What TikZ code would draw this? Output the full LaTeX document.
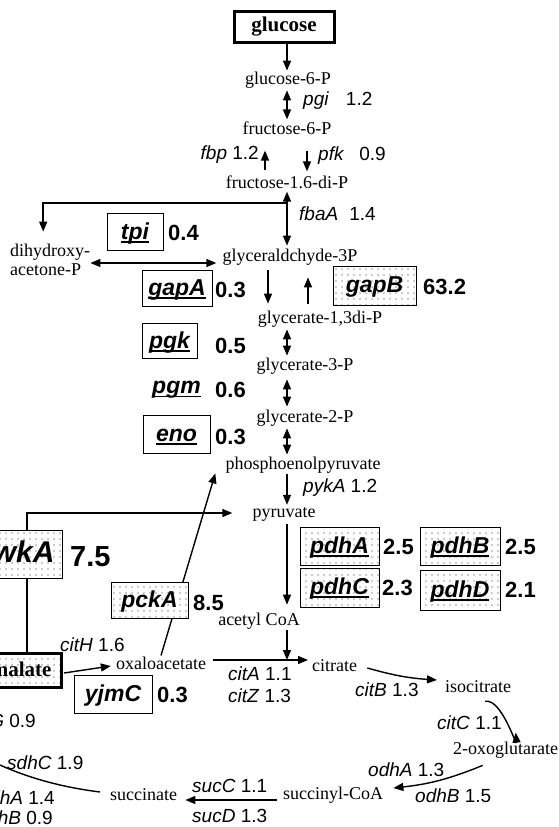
\documentclass[tikz,border=0pt]{standalone}
\usepackage{fontspec}
\setmainfont{Liberation Serif}
\setsansfont{Liberation Sans}
\usetikzlibrary{arrows.meta,patterns.meta,calc}
\newcommand\gul[1]{\setbox0=\hbox{#1}\rlap{\rule[-3.5pt]{\wd0}{1.6pt}}\box0}
\begin{document}
\begin{tikzpicture}[x=1pt,y=-1pt,
  met/.style={font=\fontsize{18}{20}\selectfont, inner sep=0pt},
  gene/.style={font=\sffamily\fontsize{19}{21}\selectfont, inner sep=0pt},
  val/.style={font=\sffamily\bfseries\fontsize{22}{24}\selectfont, inner sep=0pt},
  gbox/.style={draw, line width=0.9pt, font=\sffamily\bfseries\itshape\fontsize{23}{25}\selectfont, inner sep=0pt, text height=18pt, text depth=4pt},
  gtxt/.style={font=\sffamily\bfseries\itshape\fontsize{23}{25}\selectfont, inner sep=0pt},
  dotbox/.style={gbox, preaction={fill=white}, pattern={Dots[distance=6pt,radius=0.55pt]}, pattern color=black!85},
  con/.style={line width=1.4pt},
  arr/.style={con, -{Triangle[length=10pt,width=8pt]}},
  dbl/.style={con, {Triangle[length=10pt,width=8pt]}-{Triangle[length=10pt,width=8pt]}},
]
\useasboundingbox (0,0) rectangle (558,827);
\clip (0,0) rectangle (558,827);
% axis coordinates
\coordinate (ax) at (287,0);
\coordinate (xl) at (265,0);
\coordinate (xr) at (307,0);
\coordinate (xa) at (268,0);
\coordinate (xb) at (308,0);
\coordinate (xm) at (27,0);
\coordinate (jn) at (287,203);
\coordinate (jc) at (287,660);
\coordinate (fum) at (-15,758);
% metabolites
\node[draw, line width=3pt, minimum width=100pt, minimum height=31pt, inner sep=0pt, font=\bfseries\fontsize{21}{23}\selectfont] (glc) at (284,27) {glucose};
\node[met] (g6p) at (288,80) {glucose-6-P};
\node[met] (f6p) at (287,128) {fructose-6-P};
\node[met] (fdp) at (287,182) {fructose-1.6-di-P};
\node[met] (gap) at (290,257) {glyceraldchyde-3P};
\node[met, anchor=west] (dhap1) at (10,252) {dihydroxy-};
\node[met, anchor=west] (dhap2) at (10,270) {acetone-P};
\node[met] (bpg) at (320,319) {glycerate-1,3di-P};
\node[met] (pg3) at (305,366) {glycerate-3-P};
\node[met] (pg2) at (305,418) {glycerate-2-P};
\node[met] (pep) at (303,465) {phosphoenolpyruvate};
\node[met] (pyr) at (284,514) {pyruvate};
\node[met] (accoa) at (259,621) {acetyl CoA};
\node[met] (oaa) at (161,663) {oxaloacetate};
\node[met, anchor=west] (cit) at (312,666) {citrate};
\node[met, anchor=west] (icit) at (445,687) {isocitrate};
\node[met, anchor=west] (akg) at (453,750) {2-oxoglutarate};
\node[met, anchor=west] (sucoa) at (283,795) {succinyl-CoA};
\node[met, anchor=west] (suc) at (110,795) {succinate};
\node[dotbox, line width=3pt, font=\bfseries\fontsize{21}{23}\selectfont, text height=14pt, text depth=1pt, minimum height=34pt, text width=80pt, align=right, inner xsep=10pt, anchor=east] (mal) at (63,670) {malate};
% connectors
\draw[arr] (glc.south -| ax) -- ($(g6p.north -| ax)+(0,-1)$);
\draw[dbl] ($(g6p.south -| ax)+(0,2)$) -- ($(f6p.north -| ax)+(0,-2)$);
\draw[arr] ($(fdp.north -| xl)+(0,-5)$) -- ($(f6p.south -| xl)+(0,16)$);
\draw[arr] ($(f6p.south -| xr)+(0,16)$) -- ($(fdp.north -| xr)+(0,-4)$);
\draw[dbl] ($(fdp.south -| ax)+(0,3)$) -- ($(gap.north -| ax)+(0,-3)$);
\draw[arr] (jn) -| ($(dhap1.north)+(-7,-12)$);
\draw[dbl] ($(dhap2.east)+(9,-7)$) -- ($(gap.west)+(-6,6)$);
\draw[arr] ($(gap.south -| xa)+(0,5)$) -- ($(bpg.north -| xa)+(0,-7)$);
\draw[arr] ($(bpg.north -| xb)+(0,-7)$) -- ($(gap.south -| xb)+(0,12)$);
\draw[dbl] ($(bpg.south -| ax)+(0,2)$) -- ($(pg3.north -| ax)+(0,-2)$);
\draw[dbl] ($(pg3.south -| ax)+(0,5)$) -- ($(pg2.north -| ax)+(0,-3)$);
\draw[dbl] ($(pg2.south -| ax)+(0,2)$) -- ($(pep.north -| ax)+(0,-2)$);
\draw[arr] ($(pep.south -| ax)+(0,1)$) -- ($(pyr.north -| ax)+(0,-2)$);
\draw[arr] ($(pyr.south -| ax)+(0,3)$) -- ($(accoa.north -| ax)+(0,-8)$);
\draw[arr] ($(accoa.south -| ax)+(0,1)$) -- (jc);
\draw[arr] ($(oaa.east)+(7,-3)$) -- ($(cit.west)+(-4,-6)$);
\draw[arr] ($(mal.east)+(1,3)$) -- ($(oaa.west)+(-5,3)$);
\draw[arr] ($(oaa.north)+(0,-1)$) -- ($(pep.south west)+(-10,0)$);
\draw[arr] (mal.north -| xm) |- ($(pyr.west)+(-20,-1)$);
\draw[arr] ($(cit.east)+(10,2)$) to[bend right=6] ($(icit.west)+(-8,-7)$);
\draw[arr] ($(icit.south)+(7,8)$) to[out=10,in=-85] ($(akg.north)+(10,-9)$);
\draw[arr] ($(akg.south)+(-23,7)$) to[bend left=8] ($(sucoa.east)+(10,-7)$);
\draw[arr] ($(sucoa.west)+(-6,5)$) -- ($(suc.east)+(8,5)$);
\draw[arr] ($(suc.west)+(-10,-3)$) .. controls (60,787) and (25,777) .. (fum);
% gene boxes and values
\node[gbox, minimum width=56pt, minimum height=37pt] (tpi) at (135,232) {\gul{tpi}};
\node[val, anchor=west] (tpiv) at (168,233) {0.4};
\node[gbox, minimum width=70pt, minimum height=36pt] (gapA) at (177,288) {\gul{gapA}};
\node[val, anchor=west] (gapAv) at (215,290) {0.3};
\node[dotbox, minimum width=83pt, minimum height=39pt] (gapB) at (374.5,285.5) {gapB};
\node[val, anchor=west] (gapBv) at (423,287) {63.2};
\node[gbox, minimum width=55pt, minimum height=35pt] (pgk) at (169.5,341) {\gul{pgk}};
\node[val, anchor=west] (pgkv) at (215,346) {0.5};
\node[gtxt, anchor=west] (pgm) at (152,390) {\gul{pgm}};
\node[val, anchor=west] (pgmv) at (215,390) {0.6};
\node[gbox, minimum width=67pt, minimum height=38pt] (eno) at (176.5,434) {\gul{eno}};
\node[val, anchor=west] (enov) at (215,437) {0.3};
\node[dotbox, minimum width=79pt, minimum height=38pt] (pdhA) at (339.5,546) {\gul{pdhA}};
\node[val, anchor=west] (pdhAv) at (383,547) {2.5};
\node[dotbox, minimum width=80pt, minimum height=38pt] (pdhB) at (460,546) {\gul{pdhB}};
\node[val, anchor=west] (pdhBv) at (505,547) {2.5};
\node[dotbox, minimum width=79pt, minimum height=39pt] (pdhC) at (339.5,587.5) {\gul{pdhC}};
\node[val, anchor=west] (pdhCv) at (382,588) {2.3};
\node[dotbox, minimum width=80pt, minimum height=40pt] (pdhD) at (460,590) {\gul{pdhD}};
\node[val, anchor=west] (pdhDv) at (505,590) {2.1};
\node[dotbox, font=\sffamily\bfseries\itshape\fontsize{30}{32}\selectfont, text height=22pt, text depth=6pt, minimum height=48pt, text width=80pt, align=right, inner xsep=8pt, anchor=east] (ywk) at (63,554) {ywkA};
\node[val, font=\sffamily\bfseries\fontsize{29}{31}\selectfont, anchor=west] (ywkv) at (70,557) {7.5};
\node[dotbox, minimum width=77pt, minimum height=36pt] (pck) at (149.5,600) {pckA};
\node[val, anchor=west] (pckv) at (193,603) {8.5};
\node[gbox, minimum width=78pt, minimum height=38pt] (yjm) at (113,694) {yjmC};
\node[val, anchor=west] (yjmv) at (157,695) {0.3};
% gene labels
\node[gene, anchor=west] (pgi) at (303,101) {\textit{pgi}\hspace{17pt}1.2};
\node[gene, anchor=east] (fbp) at (259,155) {\textit{fbp} 1.2};
\node[gene, anchor=west] (pfk) at (318,156) {\textit{pfk}\hspace{15pt}0.9};
\node[gene, anchor=west] (fba) at (299,214) {\textit{fbaA}\hspace{11pt}1.4};
\node[gene, anchor=west] (pyk) at (303,488) {\textit{pykA} 1.2};
\node[gene, anchor=west] (cith) at (60,645) {\textit{citH} 1.6};
\node[gene, anchor=west] (cita) at (228,674) {\textit{citA} 1.1};
\node[gene, anchor=west] (citz) at (228,696) {\textit{citZ} 1.3};
\node[gene, anchor=west] (citb) at (355,690) {\textit{citB} 1.3};
\node[gene, anchor=west] (citc) at (437,723) {\textit{citC} 1.1};
\node[gene, anchor=west] (odha) at (368,770) {\textit{odhA} 1.3};
\node[gene, anchor=west] (odhb) at (415,796) {\textit{odhB} 1.5};
\node[gene, anchor=west] (succ) at (192,786) {\textit{sucC} 1.1};
\node[gene, anchor=west] (sucd) at (192,816) {\textit{sucD} 1.3};
\node[gene, anchor=west] (sdhc) at (7,763) {\textit{sdhC} 1.9};
\node[gene, anchor=east] (sdha) at (55,798) {\textit{sdhA} 1.4};
\node[gene, anchor=east] (sdhb) at (53,818) {\textit{sdhB} 0.9};
\node[gene, anchor=east] (citg) at (36,721) {\textit{citG} 0.9};
\end{tikzpicture}
\end{document}
